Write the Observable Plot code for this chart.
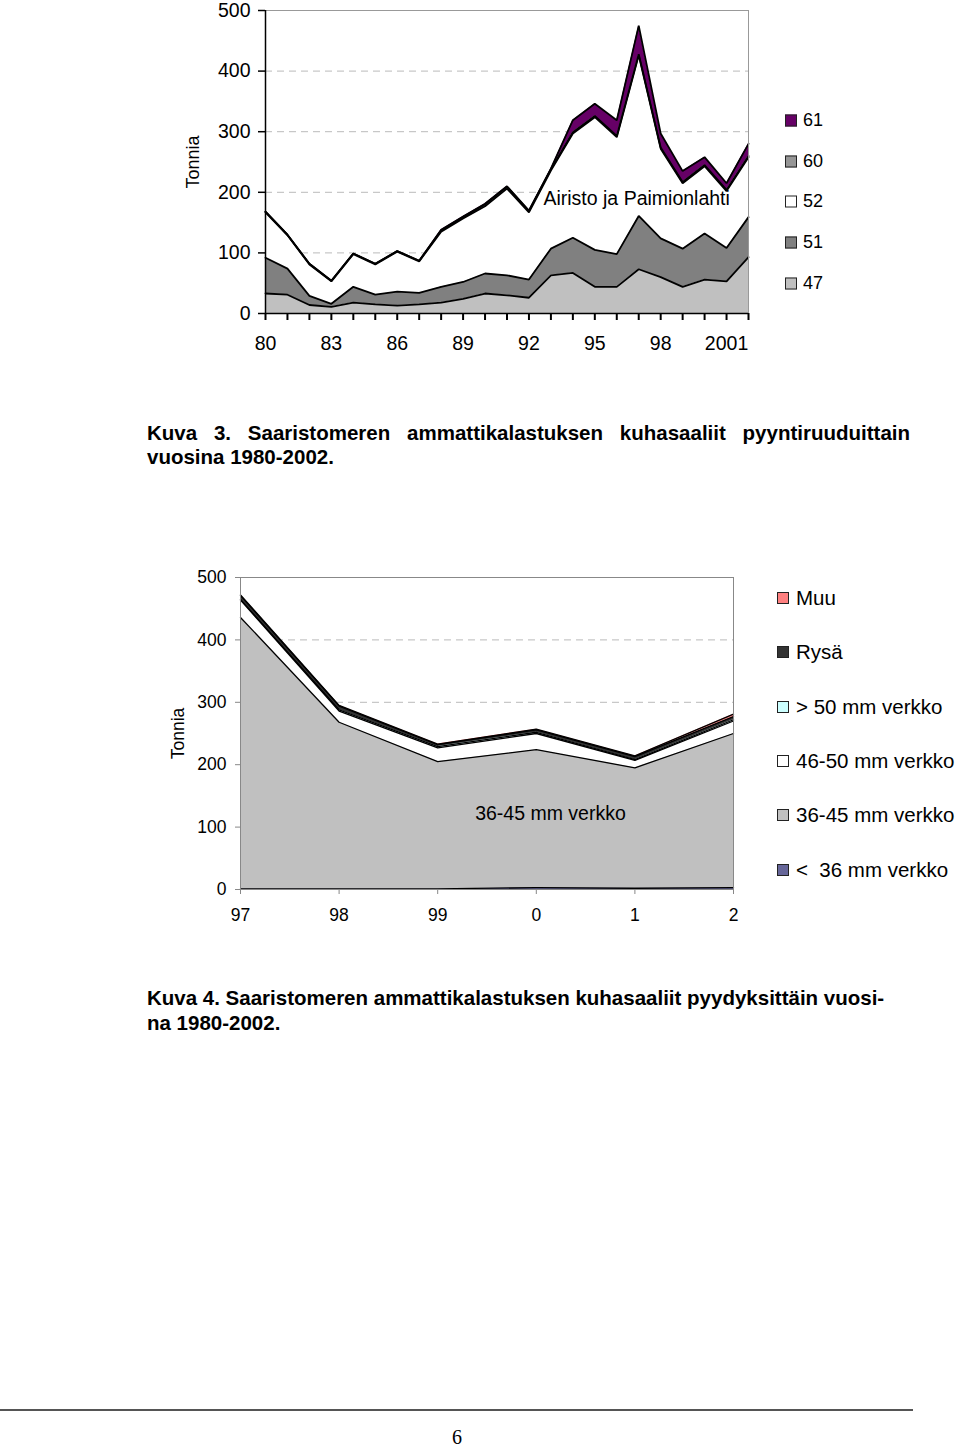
<!DOCTYPE html>
<html><head><meta charset="utf-8">
<script src="https://cdn.jsdelivr.net/npm/d3@7"></script>
<script src="https://cdn.jsdelivr.net/npm/@observablehq/plot@0.6"></script>
<style>
body{margin:0;background:#fff;}
#page{position:relative;width:960px;height:1448px;overflow:hidden;font-family:"Liberation Sans",Arial,sans-serif;color:#000;background:#fff}
.leg{position:absolute;display:flex;align-items:center;white-space:nowrap;transform:translateY(-50%)}
.sw{width:10px;height:10px;border:1px solid #222;margin-right:6px;flex:none}
.cap{position:absolute;left:147px;font-family:"Liberation Sans Narrow","Arial Narrow",sans-serif;font-weight:bold;font-size:20.5px;white-space:nowrap;line-height:24px}
.just{white-space:normal;text-align:justify;text-align-last:justify}
#c1,#c2{position:absolute}
</style></head><body><div id="page">
<div id="c1" style="left:160px;top:0px"></div>
<div id="leg1"></div>
<div class="cap just" style="top:421px;width:763px">Kuva 3. Saaristomeren ammattikalastuksen kuhasaaliit pyyntiruuduittain</div>
<div class="cap" style="top:445px">vuosina 1980-2002.</div>
<div id="c2" style="left:160px;top:560px"></div>
<div id="leg2"></div>
<div class="cap" style="top:986px">Kuva 4. Saaristomeren ammattikalastuksen kuhasaaliit pyydyksittäin vuosi-</div>
<div class="cap" style="top:1011px">na 1980-2002.</div>
<div style="position:absolute;left:0;top:1409px;width:913px;height:2px;background:#555"></div>
<div style="position:absolute;left:0;width:914px;top:1427px;height:20px;line-height:20px;text-align:center;font-family:'Liberation Serif','Times New Roman',serif;font-size:20px">6</div>
</div>
<script>
// ---------- Chart 1 data (Kuva 3) ----------
const years1 = [1980,1981,1982,1983,1984,1985,1986,1987,1988,1989,1990,1991,1992,1993,1994,1995,1996,1997,1998,1999,2000,2001,2002];
const labelYears1 = [1980,1983,1986,1989,1992,1995,1998,2001];
const labelText1 = ["80","83","86","89","92","95","98","2001"];
const series1 = ["47","51","52","60","61"];
const colors1 = ["#c0c0c0","#808080","#ffffff","#969696","#660066"];
const s47 = [33,31,14,11,18,15,13,15,18,24,33,30,26,63,67,44,44,73,60,44,56,53,93];
const s51 = [59,43,15,5,26,16,23,19,26,28,33,33,30,44,58,61,54,88,64,63,76,55,66];
const s52 = [75,55,52,37,54,50,66,52,91,105,111,143,111,129,172,219,193,265,148,108,111,94,99];
const s60 = [1,1,1,1,1,1,1,1,2,2,3,3,2,2,2,2,2,2,2,2,2,2,2];
const s61 = [0,0,0,0,0,0,0,0,1,1,1,1,1,1,20,20,26,47,23,18,13,11,20];
const values1 = [s47,s51,s52,s60,s61];
const annot1 = [{x:1992.66, y:190, text:"Airisto ja Paimionlahti"}];

// ---------- Chart 2 data (Kuva 4) ----------
const labels2 = ["97","98","99","0","1","2"];
const series2 = ["< 36 mm verkko","36-45 mm verkko","46-50 mm verkko","> 50 mm verkko","Rysä","Muu"];
const colors2 = ["#666699","#c0c0c0","#ffffff","#ccffff","#333333","#ff8080"];
const u36   = [1,1,1,3,2,3];
const v3645 = [435,267,204,221,193,247];
const v4650 = [28,18,22,26,12,20];
const v50   = [1,2,2,2,1,2];
const rysa  = [6,6,3,4,5,5];
const muu   = [1,1,1,1,1,4];
const values2 = [u36,v3645,v4650,v50,rysa,muu];
const annot2 = [{x:2.38, y:122, text:"36-45 mm verkko"}];

const long1 = [];
series1.forEach((s,k)=>years1.forEach((y,i)=>long1.push({year:y, series:s, value:values1[k][i]})));
const long2 = [];
series2.forEach((s,k)=>labels2.forEach((l,i)=>long2.push({idx:i, series:s, value:values2[k][i]})));

const font = '"Liberation Sans", Arial, sans-serif';

const p1 = Plot.plot({
  width: 610, height: 360,
  marginLeft: 105, marginRight: 22, marginTop: 10, marginBottom: 47,
  x: {domain: [1980, 2002]},
  y: {domain: [0, 500]},
  color: {domain: series1, range: colors1},
  style: {fontFamily: font, fontSize: "19px", background: "transparent", overflow: "visible"},
  marks: [
    Plot.gridY([100,200,300,400], {stroke: "#bbbbbb", strokeOpacity: 1, strokeDasharray: "7,5"}),
    Plot.areaY(long1, {x: "year", y: "value", z: "series", fill: "series", order: series1}),
    Plot.lineY(long1, Plot.stackY2({x: "year", y: "value", z: "series", order: series1, stroke: "black", strokeWidth: 1.8, strokeLinejoin: "miter"})),
    Plot.ruleY([500], {stroke: "#999"}),
    Plot.ruleX([2002], {stroke: "#999"}),
    Plot.ruleX([1980], {stroke: "black", strokeWidth: 1.5}),
    Plot.ruleY([0], {stroke: "black", strokeWidth: 1.5}),
    Plot.axisY({ticks: [0,100,200,300,400,500], tickSize: 7, tickPadding: 8, label: null, fontSize: 19.5, strokeWidth: 1.5}),
    Plot.axisX({ticks: years1, tickSize: 7, tickFormat: () => "", label: null, strokeWidth: 2}),
    Plot.axisX({ticks: labelYears1, tickSize: 0, tickPadding: 23, tickFormat: d => labelText1[labelYears1.indexOf(d)], label: null, fontSize: 19.5}),
    Plot.text(["Tonnia"], {frameAnchor: "left", textAnchor: "middle", dx: -72, rotate: -90, fontSize: 18}),
    Plot.text(annot1, {x: "x", y: "y", text: "text", textAnchor: "start", fontSize: 19.5})
  ]
});
document.getElementById("c1").appendChild(p1);

const p2 = Plot.plot({
  width: 590, height: 380,
  marginLeft: 80, marginRight: 17, marginTop: 17, marginBottom: 51,
  x: {domain: [0, 5]},
  y: {domain: [0, 500]},
  color: {domain: series2, range: colors2},
  style: {fontFamily: font, fontSize: "17px", background: "transparent", overflow: "visible"},
  marks: [
    Plot.gridY([100,200,300,400], {stroke: "#bbbbbb", strokeOpacity: 1, strokeDasharray: "7,5"}),
    Plot.areaY(long2, {x: "idx", y: "value", z: "series", fill: "series", order: series2}),
    Plot.lineY(long2, Plot.stackY2({x: "idx", y: "value", z: "series", order: series2, stroke: "black", strokeWidth: 1.3})),
    Plot.frame({stroke: "#888"}),
    Plot.axisY({ticks: [0,100,200,300,400,500], tickSize: 5, tickPadding: 9, label: null, fontSize: 17.5, stroke: "#888"}),
    Plot.axisX({ticks: [0,1,2,3,4,5], tickSize: 5, tickPadding: 14, tickFormat: d => labels2[d], label: null, fontSize: 17.5, stroke: "#888"}),
    Plot.text(["Tonnia"], {frameAnchor: "left", textAnchor: "middle", dx: -62, rotate: -90, fontSize: 17.5}),
    Plot.text(annot2, {x: "x", y: "y", text: "text", textAnchor: "start", fontSize: 19.5})
  ]
});
document.getElementById("c2").appendChild(p2);

// Legends (HTML)
const leg1Order = ["61","60","52","51","47"];
const leg1Y = [120,161,201,242,283];
const leg1 = document.getElementById("leg1");
leg1Order.forEach((s,i)=>{
  const d = document.createElement("div");
  d.className = "leg";
  d.style.left = "785px"; d.style.top = leg1Y[i]+"px"; d.style.fontSize = "18px";
  d.innerHTML = `<span class="sw" style="background:${colors1[series1.indexOf(s)]}"></span><span>${s}</span>`;
  leg1.appendChild(d);
});
const leg2Order = ["Muu","Rysä","> 50 mm verkko","46-50 mm verkko","36-45 mm verkko","< 36 mm verkko"];
const leg2Y = [598,652,707,761,815,870];
const leg2 = document.getElementById("leg2");
leg2Order.forEach((s,i)=>{
  const d = document.createElement("div");
  d.className = "leg";
  d.style.left = "777px"; d.style.top = leg2Y[i]+"px"; d.style.fontSize = "20.5px";
  const label = s === "< 36 mm verkko" ? "&lt;&nbsp; 36 mm verkko" : s.replace(">", "&gt;");
  d.innerHTML = `<span class="sw" style="background:${colors2[series2.indexOf(s)]};margin-right:7px"></span><span>${label}</span>`;
  leg2.appendChild(d);
});
</script>
</body></html>
